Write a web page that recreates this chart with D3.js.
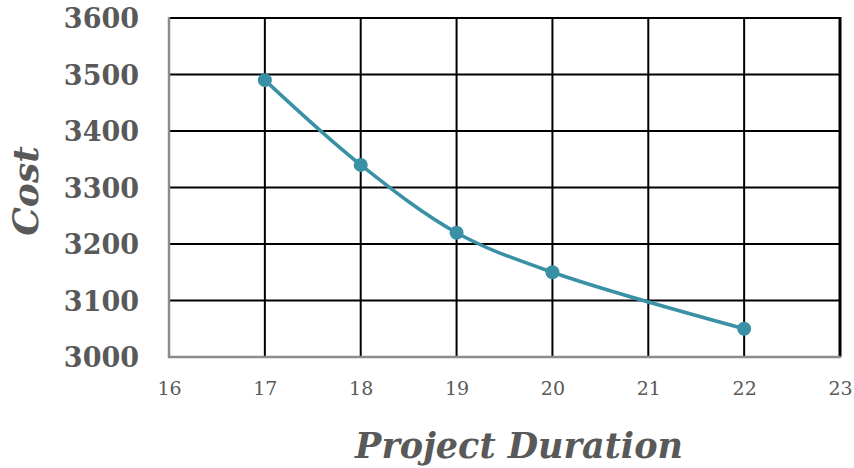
<!DOCTYPE html>
<html>
<head>
<meta charset="utf-8">
<script src="https://cdn.jsdelivr.net/npm/d3@7"></script>
<style>
  html, body { margin: 0; padding: 0; background: #fff; }
  svg { display: block; }
</style>
</head>
<body>
<svg id="chart" width="854" height="468"></svg>
<script>
// Project duration (x) vs. total cost (y)
const durations = [17, 18, 19, 20, 22];
const costs = [3490, 3340, 3220, 3150, 3050];
const xTicks = [16, 17, 18, 19, 20, 21, 22, 23];
const yTicks = [3000, 3100, 3200, 3300, 3400, 3500, 3600];

const svg = d3.select("#chart");
const margin = { left: 169, right: 14, top: 18, bottom: 111 };
const W = 854, H = 468;

const x = d3.scaleLinear().domain([16, 23]).range([margin.left, W - margin.right]);
const y = d3.scaleLinear().domain([3000, 3600]).range([H - margin.bottom, margin.top]);

const textColor = "#595959";
const lineColor = "#3A91A6";

// grid
const grid = svg.append("g");
grid.selectAll("line.h").data(yTicks.filter(d => d > 3000)).join("line")
  .attr("x1", x(16)).attr("x2", x(23))
  .attr("y1", d => y(d)).attr("y2", d => y(d))
  .attr("stroke", "#000").attr("stroke-width", 2);
grid.selectAll("line.v").data(xTicks.filter(d => d > 16)).join("line")
  .attr("x1", d => x(d)).attr("x2", d => x(d))
  .attr("y1", y(3600) - 1).attr("y2", y(3000))
  .attr("stroke", "#000").attr("stroke-width", d => d === 23 ? 3 : 2);

// axis lines
svg.append("line")
  .attr("x1", x(16)).attr("x2", x(16)).attr("y1", y(3600) - 1).attr("y2", y(3000) + 1)
  .attr("stroke", "#8c8c8c").attr("stroke-width", 2.5);
svg.append("line")
  .attr("x1", x(16) - 1).attr("x2", x(23) + 1).attr("y1", y(3000)).attr("y2", y(3000))
  .attr("stroke", "#8c8c8c").attr("stroke-width", 2.5);

// y tick labels
const yAxis = d3.axisLeft(y).tickValues(yTicks).tickSize(0).tickPadding(30).tickFormat(d3.format("d"));
const gy = svg.append("g").attr("transform", `translate(${x(16)},0)`).call(yAxis);
gy.select(".domain").remove();
gy.selectAll("text")
  .attr("fill", textColor)
  .attr("font-family", "'DejaVu Serif', serif")
  .attr("font-weight", "bold")
  .attr("font-size", 27)
  .attr("dy", "0.36em");

// x tick labels
const xAxis = d3.axisBottom(x).tickValues(xTicks).tickSize(0).tickPadding(25).tickFormat(d3.format("d"));
const gx = svg.append("g").attr("transform", `translate(0,${y(3000)})`).call(xAxis);
gx.select(".domain").remove();
gx.selectAll("text")
  .attr("fill", textColor)
  .attr("font-family", "'DejaVu Serif', serif")
  .attr("font-size", 19);

// series line
const line = d3.line()
  .x((d, i) => x(durations[i]))
  .y(d => y(d))
  .curve(d3.curveCatmullRom.alpha(0.5));
svg.append("path")
  .datum(costs)
  .attr("d", line)
  .attr("fill", "none")
  .attr("stroke", lineColor)
  .attr("stroke-width", 3.5);

svg.selectAll("circle.pt").data(costs).join("circle")
  .attr("cx", (d, i) => x(durations[i]))
  .attr("cy", d => y(d))
  .attr("r", 7)
  .attr("fill", lineColor);

// axis titles
svg.append("text")
  .attr("x", 519)
  .attr("y", 458)
  .attr("text-anchor", "middle")
  .attr("fill", textColor)
  .attr("font-family", "'DejaVu Serif', serif")
  .attr("font-weight", "bold")
  .attr("font-style", "italic")
  .attr("font-size", 35)
  .text("Project Duration");

svg.append("text")
  .attr("transform", `translate(38,191) rotate(-90)`)
  .attr("text-anchor", "middle")
  .attr("fill", textColor)
  .attr("font-family", "'DejaVu Serif', serif")
  .attr("font-weight", "bold")
  .attr("font-style", "italic")
  .attr("font-size", 36)
  .text("Cost");
</script>
</body>
</html>
